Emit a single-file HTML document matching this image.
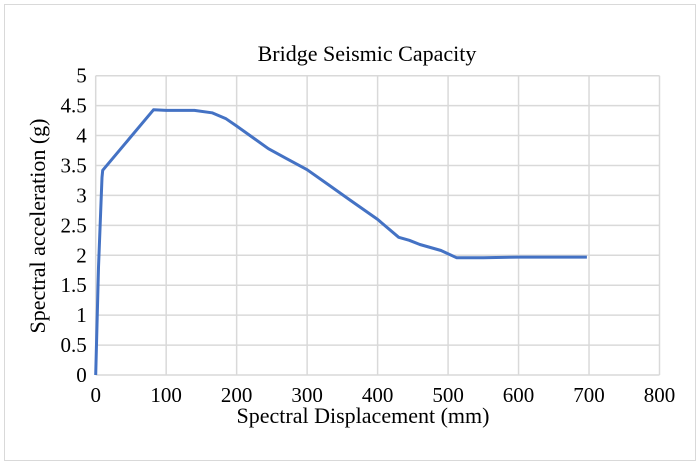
<!DOCTYPE html>
<html><head><meta charset="utf-8"><style>
body{margin:0;background:#fff;}
svg{display:block;}
svg text{font-family:"Liberation Serif","Times New Roman","DejaVu Serif",serif;}
</style></head><body>
<svg id="chart" width="700" height="466" font-family="Liberation Serif, Times New Roman, DejaVu Serif, serif">
<rect x="4.5" y="4.5" width="691" height="456" fill="#fff" stroke="#d9d9d9"/>
<text x="367" y="61" text-anchor="middle" font-size="22">Bridge Seismic Capacity</text>
<g id="grid"></g><g id="ticks"></g>
<text x="363" y="423" text-anchor="middle" font-size="22">Spectral Displacement (mm)</text>
<text transform="translate(45,226) rotate(-90)" text-anchor="middle" font-size="22">Spectral acceleration (g)</text>
<path id="line" fill="none" stroke="#4472c4" stroke-width="3" stroke-linejoin="round"/>
</svg>
<script>
const xTicks=[0,100,200,300,400,500,600,700,800];
const yTicks=[0,0.5,1,1.5,2,2.5,3,3.5,4,4.5,5];
const xVals=[0,4,7,9,10,82,100,140,165,185,200,225,245,270,300,330,360,400,430,445,460,490,512,550,600,697];
const yVals=[0,1.8,2.7,3.3,3.42,4.43,4.42,4.42,4.38,4.28,4.16,3.95,3.78,3.62,3.43,3.18,2.93,2.6,2.3,2.25,2.18,2.08,1.96,1.96,1.97,1.97];
const X0=95.7,X1=659.5,Y0=375,Y1=75.7;
const sx=v=>X0+(v-0)/800*(X1-X0);
const sy=v=>Y0-(v-0)/5*(Y0-Y1);
const NS='http://www.w3.org/2000/svg';
const grid=document.getElementById('grid'),ticks=document.getElementById('ticks');
function mk(tag,attrs,parent){const e=document.createElementNS(NS,tag);for(const k in attrs)e.setAttribute(k,attrs[k]);parent.appendChild(e);return e;}
xTicks.forEach(t=>{
 const l=mk('line',{x1:sx(t),x2:sx(t),y1:Y1,y2:Y0,stroke:'#d9d9d9','stroke-width':1.5},grid);
 
 
 const tx=mk('text',{x:sx(t),y:Y0+27,'text-anchor':'middle','font-size':21},ticks);
 tx.textContent=t;
 
 
});
yTicks.forEach(t=>{
 const l=mk('line',{x1:X0,x2:X1,y1:sy(t),y2:sy(t),stroke:'#d9d9d9','stroke-width':1.5},grid);
 
 
 const tx=mk('text',{x:X0-9,y:sy(t)+7,'text-anchor':'end','font-size':21},ticks);
 tx.textContent=t;
 
 
});
document.getElementById('line').setAttribute('d',xVals.map((v,i)=>(i?'L':'M')+sx(v).toFixed(1)+','+sy(yVals[i]).toFixed(1)).join(''));
</script>
</body></html>
